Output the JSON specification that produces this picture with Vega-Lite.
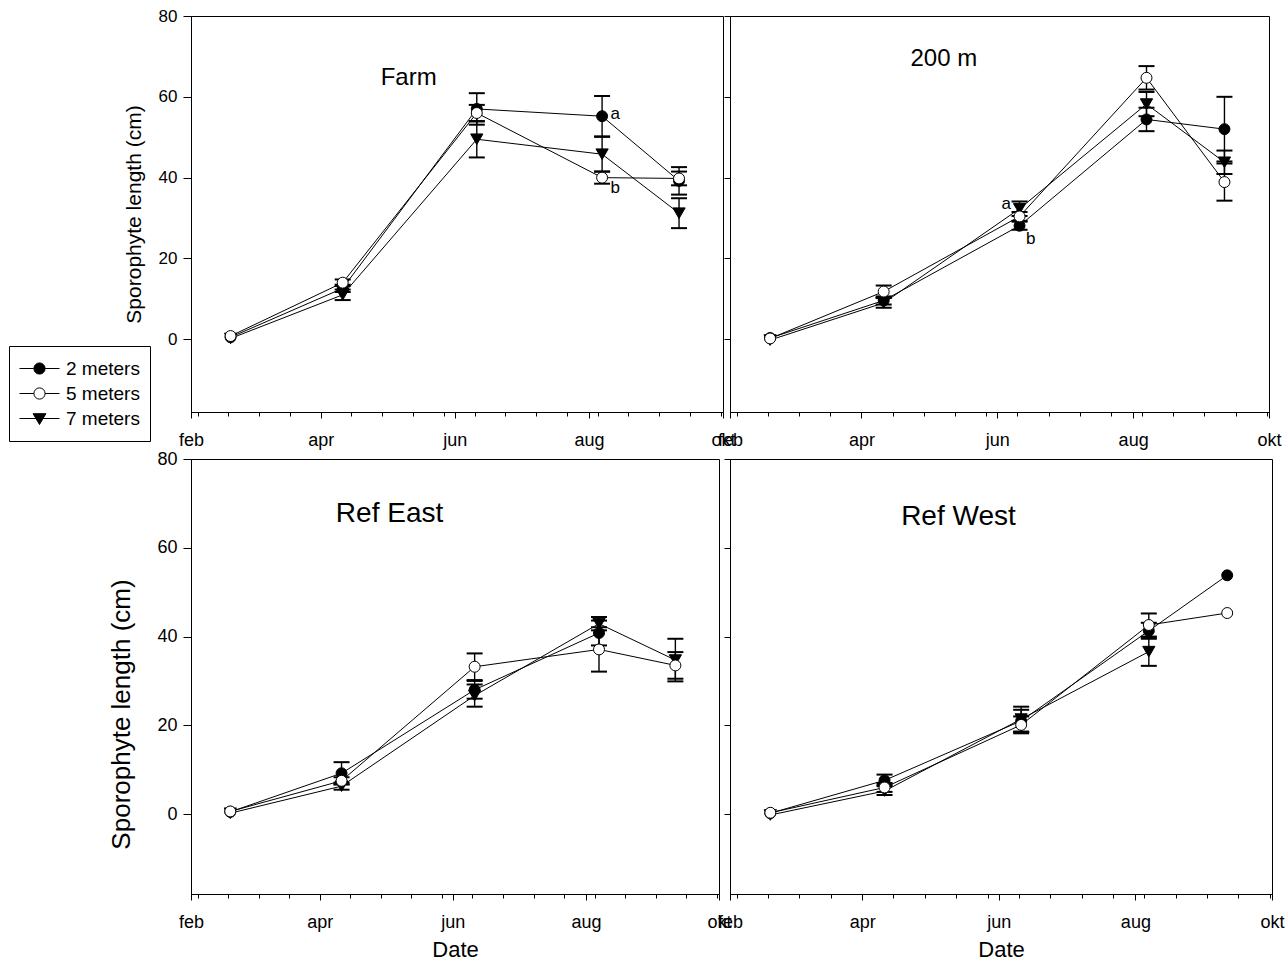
{
  "$schema": "https://vega.github.io/schema/vega-lite/v6.json",
  "padding": {"left": 8, "top": 6, "right": 0, "bottom": 0},
  "background": "white",
  "config": {
    "font": "Liberation Sans",
    "view": {"stroke": "black", "strokeWidth": 1},
    "axis": {"labelFont": "Liberation Sans", "titleFont": "Liberation Sans", "labelColor": "black", "titleColor": "black", "tickColor": "black", "domainColor": "black", "titleFontWeight": "normal", "grid": false, "tickWidth": 1, "domainWidth": 1}
  },
  "datasets": {
    "d": [
      {"panel": "Farm", "depth": "2 meters", "date": "2009-02-19", "y": 0.5, "lo": null, "hi": null},
      {"panel": "Farm", "depth": "2 meters", "date": "2009-04-11", "y": 12.6, "lo": 11.7, "hi": 13.5},
      {"panel": "Farm", "depth": "2 meters", "date": "2009-06-11", "y": 57.0, "lo": 53.1, "hi": 60.9},
      {"panel": "Farm", "depth": "2 meters", "date": "2009-08-07", "y": 55.2, "lo": 50.2, "hi": 60.2},
      {"panel": "Farm", "depth": "2 meters", "date": "2009-09-11", "y": 39.2, "lo": 35.8, "hi": 42.6},
      {"panel": "Farm", "depth": "7 meters", "date": "2009-02-19", "y": 0.2, "lo": null, "hi": null},
      {"panel": "Farm", "depth": "7 meters", "date": "2009-04-11", "y": 11.0, "lo": 9.7, "hi": 12.3},
      {"panel": "Farm", "depth": "7 meters", "date": "2009-06-11", "y": 49.5, "lo": 45.0, "hi": 54.0},
      {"panel": "Farm", "depth": "7 meters", "date": "2009-08-07", "y": 45.8, "lo": 41.5, "hi": 50.1},
      {"panel": "Farm", "depth": "7 meters", "date": "2009-09-11", "y": 31.2, "lo": 27.5, "hi": 34.9},
      {"panel": "Farm", "depth": "5 meters", "date": "2009-02-19", "y": 0.8, "lo": null, "hi": null},
      {"panel": "Farm", "depth": "5 meters", "date": "2009-04-11", "y": 14.0, "lo": 13.2, "hi": 14.8},
      {"panel": "Farm", "depth": "5 meters", "date": "2009-06-11", "y": 56.0, "lo": 53.9, "hi": 58.0},
      {"panel": "Farm", "depth": "5 meters", "date": "2009-08-07", "y": 40.0, "lo": 38.5, "hi": 41.5},
      {"panel": "Farm", "depth": "5 meters", "date": "2009-09-11", "y": 39.8, "lo": 38.1, "hi": 41.5},

      {"panel": "200 m", "depth": "2 meters", "date": "2009-02-19", "y": 0.3, "lo": null, "hi": null},
      {"panel": "200 m", "depth": "2 meters", "date": "2009-04-11", "y": 9.6, "lo": 8.6, "hi": 10.6},
      {"panel": "200 m", "depth": "2 meters", "date": "2009-06-11", "y": 28.1, "lo": 27.1, "hi": 29.1},
      {"panel": "200 m", "depth": "2 meters", "date": "2009-08-07", "y": 54.4, "lo": 51.5, "hi": 57.3},
      {"panel": "200 m", "depth": "2 meters", "date": "2009-09-11", "y": 52.0, "lo": 44.0, "hi": 60.0},
      {"panel": "200 m", "depth": "7 meters", "date": "2009-02-19", "y": -0.2, "lo": null, "hi": null},
      {"panel": "200 m", "depth": "7 meters", "date": "2009-04-11", "y": 9.0, "lo": 7.8, "hi": 10.2},
      {"panel": "200 m", "depth": "7 meters", "date": "2009-06-11", "y": 32.3, "lo": 30.5, "hi": 34.1},
      {"panel": "200 m", "depth": "7 meters", "date": "2009-08-07", "y": 58.2, "lo": 55.2, "hi": 61.2},
      {"panel": "200 m", "depth": "7 meters", "date": "2009-09-11", "y": 43.8, "lo": 40.9, "hi": 46.7},
      {"panel": "200 m", "depth": "5 meters", "date": "2009-02-19", "y": 0.2, "lo": null, "hi": null},
      {"panel": "200 m", "depth": "5 meters", "date": "2009-04-11", "y": 11.8, "lo": 10.3, "hi": 13.3},
      {"panel": "200 m", "depth": "5 meters", "date": "2009-06-11", "y": 30.4, "lo": 29.3, "hi": 31.5},
      {"panel": "200 m", "depth": "5 meters", "date": "2009-08-07", "y": 64.7, "lo": 61.8, "hi": 67.6},
      {"panel": "200 m", "depth": "5 meters", "date": "2009-09-11", "y": 38.9, "lo": 34.3, "hi": 43.5},

      {"panel": "Ref East", "depth": "2 meters", "date": "2009-02-19", "y": 0.5, "lo": null, "hi": null},
      {"panel": "Ref East", "depth": "2 meters", "date": "2009-04-11", "y": 9.2, "lo": 6.7, "hi": 11.7},
      {"panel": "Ref East", "depth": "2 meters", "date": "2009-06-11", "y": 28.0, "lo": 26.0, "hi": 30.0},
      {"panel": "Ref East", "depth": "2 meters", "date": "2009-08-07", "y": 40.8, "lo": 38.0, "hi": 43.6},
      {"panel": "Ref East", "depth": "7 meters", "date": "2009-02-19", "y": 0.2, "lo": null, "hi": null},
      {"panel": "Ref East", "depth": "7 meters", "date": "2009-04-11", "y": 6.3, "lo": 5.5, "hi": 7.1},
      {"panel": "Ref East", "depth": "7 meters", "date": "2009-06-11", "y": 26.7, "lo": 24.2, "hi": 29.2},
      {"panel": "Ref East", "depth": "7 meters", "date": "2009-08-07", "y": 42.9, "lo": 41.4, "hi": 44.4},
      {"panel": "Ref East", "depth": "7 meters", "date": "2009-09-11", "y": 34.7, "lo": 29.9, "hi": 39.5},
      {"panel": "Ref East", "depth": "5 meters", "date": "2009-02-19", "y": 0.6, "lo": null, "hi": null},
      {"panel": "Ref East", "depth": "5 meters", "date": "2009-04-11", "y": 7.5, "lo": 6.7, "hi": 8.3},
      {"panel": "Ref East", "depth": "5 meters", "date": "2009-06-11", "y": 33.2, "lo": 30.2, "hi": 36.2},
      {"panel": "Ref East", "depth": "5 meters", "date": "2009-08-07", "y": 37.1, "lo": 32.1, "hi": 42.1},
      {"panel": "Ref East", "depth": "5 meters", "date": "2009-09-11", "y": 33.5, "lo": 30.5, "hi": 36.5},

      {"panel": "Ref West", "depth": "2 meters", "date": "2009-02-19", "y": 0.2, "lo": null, "hi": null},
      {"panel": "Ref West", "depth": "2 meters", "date": "2009-04-11", "y": 7.6, "lo": 6.6, "hi": 8.9},
      {"panel": "Ref West", "depth": "2 meters", "date": "2009-06-11", "y": 21.0, "lo": 18.5, "hi": 23.5},
      {"panel": "Ref West", "depth": "2 meters", "date": "2009-08-07", "y": 41.3, "lo": 39.5, "hi": 43.1},
      {"panel": "Ref West", "depth": "2 meters", "date": "2009-09-11", "y": 53.8, "lo": null, "hi": null},
      {"panel": "Ref West", "depth": "7 meters", "date": "2009-02-19", "y": -0.2, "lo": null, "hi": null},
      {"panel": "Ref West", "depth": "7 meters", "date": "2009-04-11", "y": 5.2, "lo": 4.3, "hi": 6.3},
      {"panel": "Ref West", "depth": "7 meters", "date": "2009-06-11", "y": 21.4, "lo": 18.6, "hi": 24.2},
      {"panel": "Ref West", "depth": "7 meters", "date": "2009-08-07", "y": 36.6, "lo": 33.4, "hi": 39.8},
      {"panel": "Ref West", "depth": "5 meters", "date": "2009-02-19", "y": 0.3, "lo": null, "hi": null},
      {"panel": "Ref West", "depth": "5 meters", "date": "2009-04-11", "y": 6.0, "lo": 5.0, "hi": 7.0},
      {"panel": "Ref West", "depth": "5 meters", "date": "2009-06-11", "y": 20.1, "lo": 18.2, "hi": 22.0},
      {"panel": "Ref West", "depth": "5 meters", "date": "2009-08-07", "y": 42.6, "lo": 40.0, "hi": 45.2},
      {"panel": "Ref West", "depth": "5 meters", "date": "2009-09-11", "y": 45.3, "lo": null, "hi": null}
    ],
    "titles": [
      {"panel": "Farm", "date": "2009-05-11", "y": 64.6, "text": "Farm"},
      {"panel": "200 m", "date": "2009-05-08", "y": 69.4, "text": "200 m"},
      {"panel": "Ref East", "date": "2009-05-03", "y": 67.7, "text": "Ref East"},
      {"panel": "Ref West", "date": "2009-05-14", "y": 67.0, "text": "Ref West"}
    ],
    "letters": [
      {"panel": "Farm", "date": "2009-08-13", "y": 55.7, "text": "a"},
      {"panel": "Farm", "date": "2009-08-13", "y": 37.4, "text": "b"},
      {"panel": "200 m", "date": "2009-06-05", "y": 33.4, "text": "a"},
      {"panel": "200 m", "date": "2009-06-16", "y": 24.7, "text": "b"}
    ]
  },
  "columns": 2,
  "spacing": {"row": 47, "column": 7},
  "bounds": "flush",
  "resolve": {"scale": {"x": "independent", "y": "independent"}},
  "concat": [
    {
      "width": 532, "height": 396,
      "encoding": {
        "x": {"field": "date", "type": "temporal", "scale": {"type": "utc", "domain": [{"year": 2009, "month": 2, "date": 1, "utc": true}, {"year": 2009, "month": 10, "date": 1, "utc": true}]},
          "axis": {"title": null, "values": [{"year": 2009, "month": 2, "date": 1, "utc": true}, {"year": 2009, "month": 2, "date": 4, "utc": true}, {"year": 2009, "month": 2, "date": 18, "utc": true}, {"year": 2009, "month": 3, "date": 4, "utc": true}, {"year": 2009, "month": 3, "date": 18, "utc": true}, {"year": 2009, "month": 4, "date": 1, "utc": true}, {"year": 2009, "month": 4, "date": 15, "utc": true}, {"year": 2009, "month": 4, "date": 29, "utc": true}, {"year": 2009, "month": 5, "date": 13, "utc": true}, {"year": 2009, "month": 5, "date": 27, "utc": true}, {"year": 2009, "month": 6, "date": 1, "utc": true}, {"year": 2009, "month": 6, "date": 10, "utc": true}, {"year": 2009, "month": 6, "date": 24, "utc": true}, {"year": 2009, "month": 7, "date": 8, "utc": true}, {"year": 2009, "month": 7, "date": 22, "utc": true}, {"year": 2009, "month": 8, "date": 1, "utc": true}, {"year": 2009, "month": 8, "date": 5, "utc": true}, {"year": 2009, "month": 8, "date": 19, "utc": true}, {"year": 2009, "month": 9, "date": 2, "utc": true}, {"year": 2009, "month": 9, "date": 16, "utc": true}, {"year": 2009, "month": 9, "date": 30, "utc": true}, {"year": 2009, "month": 10, "date": 1, "utc": true}],
            "labelExpr": "utcdate(datum.value) === 1 ? ['jan','feb','mar','apr','mai','jun','jul','aug','sep','okt','nov','des'][utcmonth(datum.value)] : ''",
            "labelOverlap": false, "labelFlush": false, "labelFontSize": 18, "labelPadding": 13,
            "tickSize": {"condition": {"test": "utcdate(datum.value) === 1", "value": 6}, "value": 4}}},
        "y": {"field": "y", "type": "quantitative", "scale": {"domain": [-18, 80], "nice": false, "zero": false},
          "axis": {"values": [0, 20, 40, 60, 80], "tickSize": 8, "labelPadding": 6, "labelFontSize": 17, "title": "Sporophyte length (cm)", "titleFontSize": 21, "titlePadding": 14}}
      },
      "layer": [
        {"data": {"name": "d"}, "transform": [{"filter": "datum.panel === 'Farm'"}], "mark": {"type": "rule", "color": "black", "strokeWidth": 1.4},
          "encoding": {"y": {"field": "lo", "type": "quantitative", "scale": {"domain": [-18, 80], "nice": false, "zero": false}, "axis": {"values": [0, 20, 40, 60, 80], "tickSize": 8, "labelPadding": 6, "labelFontSize": 17, "title": "Sporophyte length (cm)", "titleFontSize": 21, "titlePadding": 14}}, "y2": {"field": "hi"}}},
        {"data": {"name": "d"}, "transform": [{"filter": "datum.panel === 'Farm'"}], "mark": {"type": "tick", "orient": "horizontal", "size": 16, "thickness": 2, "color": "black", "opacity": 1},
          "encoding": {"y": {"field": "lo", "type": "quantitative", "scale": {"domain": [-18, 80], "nice": false, "zero": false}, "axis": {"values": [0, 20, 40, 60, 80], "tickSize": 8, "labelPadding": 6, "labelFontSize": 17, "title": "Sporophyte length (cm)", "titleFontSize": 21, "titlePadding": 14}}}},
        {"data": {"name": "d"}, "transform": [{"filter": "datum.panel === 'Farm'"}], "mark": {"type": "tick", "orient": "horizontal", "size": 16, "thickness": 2, "color": "black", "opacity": 1},
          "encoding": {"y": {"field": "hi", "type": "quantitative", "scale": {"domain": [-18, 80], "nice": false, "zero": false}, "axis": {"values": [0, 20, 40, 60, 80], "tickSize": 8, "labelPadding": 6, "labelFontSize": 17, "title": "Sporophyte length (cm)", "titleFontSize": 21, "titlePadding": 14}}}},
        {"data": {"name": "d"}, "transform": [{"filter": "datum.panel === 'Farm'"}], "mark": {"type": "line", "color": "black", "strokeWidth": 1},
          "encoding": {"detail": {"field": "depth", "type": "nominal"}}},
        {"data": {"name": "d"}, "transform": [{"filter": "datum.panel === 'Farm' && datum.depth === '2 meters'"}], "mark": {"type": "point", "shape": "circle", "filled": true, "fill": "black", "stroke": "black", "strokeWidth": 1, "size": 120, "opacity": 1}},
        {"data": {"name": "d"}, "transform": [{"filter": "datum.panel === 'Farm' && datum.depth === '7 meters'"}], "mark": {"type": "point", "shape": "triangle-down", "filled": true, "fill": "black", "stroke": "black", "strokeWidth": 1, "size": 150, "opacity": 1}},
        {"data": {"name": "d"}, "transform": [{"filter": "datum.panel === 'Farm' && datum.depth === '5 meters'"}], "mark": {"type": "point", "shape": "circle", "filled": true, "fill": "white", "stroke": "black", "strokeWidth": 1, "size": 120, "opacity": 1}},
        {"data": {"name": "d"}, "transform": [{"filter": "datum.panel === 'none'"}], "mark": {"type": "point", "stroke": "black", "strokeWidth": 1, "size": 1600, "opacity": 1},
          "encoding": {
            "shape": {"field": "depth", "type": "nominal", "scale": {"domain": ["2 meters", "5 meters", "7 meters"], "range": ["M-1,0L-0.28,0M0.28,0L1,0M0.28,0C0.28,0.1546,0.1546,0.28,0,0.28C-0.1546,0.28,-0.28,0.1546,-0.28,0C-0.28,-0.1546,-0.1546,-0.28,0,-0.28C0.1546,-0.28,0.28,-0.1546,0.28,0Z", "M-1,0L-0.28,0M0.28,0L1,0M0.28,0C0.28,0.1546,0.1546,0.28,0,0.28C-0.1546,0.28,-0.28,0.1546,-0.28,0C-0.28,-0.1546,-0.1546,-0.28,0,-0.28C0.1546,-0.28,0.28,-0.1546,0.28,0Z", "M-1,0L1,0M-0.32,-0.24L0.32,-0.24L0,0.3Z"]},
              "legend": {"title": null, "orient": "none", "legendX": -182, "legendY": 330, "strokeColor": "black", "fillColor": "white", "padding": 10, "labelFontSize": 19, "labelFont": "Liberation Sans", "labelColor": "black", "labelOffset": 6, "symbolSize": 1600, "clipHeight": 25, "rowPadding": 0, "symbolStrokeColor": "black", "symbolStrokeWidth": 1,
                "encode": {"symbols": {"update": {"stroke": {"value": "black"}, "strokeWidth": {"value": 1}}}}}},
            "fill": {"field": "depth", "type": "nominal", "scale": {"domain": ["2 meters", "5 meters", "7 meters"], "range": ["black", "white", "black"]},
              "legend": {"title": null, "orient": "none", "legendX": -182, "legendY": 330, "strokeColor": "black", "fillColor": "white", "padding": 10, "labelFontSize": 19, "labelFont": "Liberation Sans", "labelColor": "black", "labelOffset": 6, "symbolSize": 1600, "clipHeight": 25, "rowPadding": 0, "symbolStrokeColor": "black", "symbolStrokeWidth": 1,
                "encode": {"symbols": {"update": {"stroke": {"value": "black"}, "strokeWidth": {"value": 1}}}}}},
            "stroke": {"field": "depth", "type": "nominal", "scale": {"domain": ["2 meters", "5 meters", "7 meters"], "range": ["black", "black", "black"]},
              "legend": {"title": null, "orient": "none", "legendX": -182, "legendY": 330, "strokeColor": "black", "fillColor": "white", "padding": 10, "labelFontSize": 19, "labelFont": "Liberation Sans", "labelColor": "black", "labelOffset": 6, "symbolSize": 1600, "clipHeight": 25, "rowPadding": 0, "symbolStrokeColor": "black", "symbolStrokeWidth": 1,
                "encode": {"symbols": {"update": {"stroke": {"value": "black"}, "strokeWidth": {"value": 1}}}}}}
          }},
        {"data": {"name": "titles"}, "transform": [{"filter": "datum.panel === 'Farm'"}], "mark": {"type": "text", "fontSize": 24, "font": "Liberation Sans", "color": "black", "align": "center", "baseline": "middle"},
          "encoding": {"text": {"field": "text"}}},
        {"data": {"name": "letters"}, "transform": [{"filter": "datum.panel === 'Farm'"}], "mark": {"type": "text", "fontSize": 17, "font": "Liberation Sans", "color": "black", "align": "center", "baseline": "middle"},
          "encoding": {"text": {"field": "text"}}}
      ]
    },
    {
      "width": 539, "height": 396,
      "encoding": {
        "x": {"field": "date", "type": "temporal", "scale": {"type": "utc", "domain": [{"year": 2009, "month": 2, "date": 1, "utc": true}, {"year": 2009, "month": 10, "date": 1, "utc": true}]},
          "axis": {"title": null, "values": [{"year": 2009, "month": 2, "date": 1, "utc": true}, {"year": 2009, "month": 2, "date": 4, "utc": true}, {"year": 2009, "month": 2, "date": 18, "utc": true}, {"year": 2009, "month": 3, "date": 4, "utc": true}, {"year": 2009, "month": 3, "date": 18, "utc": true}, {"year": 2009, "month": 4, "date": 1, "utc": true}, {"year": 2009, "month": 4, "date": 15, "utc": true}, {"year": 2009, "month": 4, "date": 29, "utc": true}, {"year": 2009, "month": 5, "date": 13, "utc": true}, {"year": 2009, "month": 5, "date": 27, "utc": true}, {"year": 2009, "month": 6, "date": 1, "utc": true}, {"year": 2009, "month": 6, "date": 10, "utc": true}, {"year": 2009, "month": 6, "date": 24, "utc": true}, {"year": 2009, "month": 7, "date": 8, "utc": true}, {"year": 2009, "month": 7, "date": 22, "utc": true}, {"year": 2009, "month": 8, "date": 1, "utc": true}, {"year": 2009, "month": 8, "date": 5, "utc": true}, {"year": 2009, "month": 8, "date": 19, "utc": true}, {"year": 2009, "month": 9, "date": 2, "utc": true}, {"year": 2009, "month": 9, "date": 16, "utc": true}, {"year": 2009, "month": 9, "date": 30, "utc": true}, {"year": 2009, "month": 10, "date": 1, "utc": true}],
            "labelExpr": "utcdate(datum.value) === 1 ? ['jan','feb','mar','apr','mai','jun','jul','aug','sep','okt','nov','des'][utcmonth(datum.value)] : ''",
            "labelOverlap": false, "labelFlush": false, "labelFontSize": 18, "labelPadding": 13,
            "tickSize": {"condition": {"test": "utcdate(datum.value) === 1", "value": 6}, "value": 4}}},
        "y": {"field": "y", "type": "quantitative", "scale": {"domain": [-18, 80], "nice": false, "zero": false},
          "axis": {"values": [0, 20, 40, 60, 80], "tickSize": 6, "labels": false, "title": null}}
      },
      "layer": [
        {"data": {"name": "d"}, "transform": [{"filter": "datum.panel === '200 m'"}], "mark": {"type": "rule", "color": "black", "strokeWidth": 1.4},
          "encoding": {"y": {"field": "lo", "type": "quantitative", "scale": {"domain": [-18, 80], "nice": false, "zero": false}, "axis": {"values": [0, 20, 40, 60, 80], "tickSize": 6, "labels": false, "title": null}}, "y2": {"field": "hi"}}},
        {"data": {"name": "d"}, "transform": [{"filter": "datum.panel === '200 m'"}], "mark": {"type": "tick", "orient": "horizontal", "size": 16, "thickness": 2, "color": "black", "opacity": 1},
          "encoding": {"y": {"field": "lo", "type": "quantitative", "scale": {"domain": [-18, 80], "nice": false, "zero": false}, "axis": {"values": [0, 20, 40, 60, 80], "tickSize": 6, "labels": false, "title": null}}}},
        {"data": {"name": "d"}, "transform": [{"filter": "datum.panel === '200 m'"}], "mark": {"type": "tick", "orient": "horizontal", "size": 16, "thickness": 2, "color": "black", "opacity": 1},
          "encoding": {"y": {"field": "hi", "type": "quantitative", "scale": {"domain": [-18, 80], "nice": false, "zero": false}, "axis": {"values": [0, 20, 40, 60, 80], "tickSize": 6, "labels": false, "title": null}}}},
        {"data": {"name": "d"}, "transform": [{"filter": "datum.panel === '200 m'"}], "mark": {"type": "line", "color": "black", "strokeWidth": 1},
          "encoding": {"detail": {"field": "depth", "type": "nominal"}}},
        {"data": {"name": "d"}, "transform": [{"filter": "datum.panel === '200 m' && datum.depth === '2 meters'"}], "mark": {"type": "point", "shape": "circle", "filled": true, "fill": "black", "stroke": "black", "strokeWidth": 1, "size": 120, "opacity": 1}},
        {"data": {"name": "d"}, "transform": [{"filter": "datum.panel === '200 m' && datum.depth === '7 meters'"}], "mark": {"type": "point", "shape": "triangle-down", "filled": true, "fill": "black", "stroke": "black", "strokeWidth": 1, "size": 150, "opacity": 1}},
        {"data": {"name": "d"}, "transform": [{"filter": "datum.panel === '200 m' && datum.depth === '5 meters'"}], "mark": {"type": "point", "shape": "circle", "filled": true, "fill": "white", "stroke": "black", "strokeWidth": 1, "size": 120, "opacity": 1}},
        {"data": {"name": "titles"}, "transform": [{"filter": "datum.panel === '200 m'"}], "mark": {"type": "text", "fontSize": 24, "font": "Liberation Sans", "color": "black", "align": "center", "baseline": "middle"},
          "encoding": {"text": {"field": "text"}}},
        {"data": {"name": "letters"}, "transform": [{"filter": "datum.panel === '200 m'"}], "mark": {"type": "text", "fontSize": 17, "font": "Liberation Sans", "color": "black", "align": "center", "baseline": "middle"},
          "encoding": {"text": {"field": "text"}}}
      ]
    },
    {
      "width": 528, "height": 435,
      "encoding": {
        "x": {"field": "date", "type": "temporal", "scale": {"type": "utc", "domain": [{"year": 2009, "month": 2, "date": 1, "utc": true}, {"year": 2009, "month": 10, "date": 1, "utc": true}]},
          "axis": {"title": "Date", "titleFontSize": 22, "titlePadding": 8, "values": [{"year": 2009, "month": 2, "date": 1, "utc": true}, {"year": 2009, "month": 2, "date": 4, "utc": true}, {"year": 2009, "month": 2, "date": 18, "utc": true}, {"year": 2009, "month": 3, "date": 4, "utc": true}, {"year": 2009, "month": 3, "date": 18, "utc": true}, {"year": 2009, "month": 4, "date": 1, "utc": true}, {"year": 2009, "month": 4, "date": 15, "utc": true}, {"year": 2009, "month": 4, "date": 29, "utc": true}, {"year": 2009, "month": 5, "date": 13, "utc": true}, {"year": 2009, "month": 5, "date": 27, "utc": true}, {"year": 2009, "month": 6, "date": 1, "utc": true}, {"year": 2009, "month": 6, "date": 10, "utc": true}, {"year": 2009, "month": 6, "date": 24, "utc": true}, {"year": 2009, "month": 7, "date": 8, "utc": true}, {"year": 2009, "month": 7, "date": 22, "utc": true}, {"year": 2009, "month": 8, "date": 1, "utc": true}, {"year": 2009, "month": 8, "date": 5, "utc": true}, {"year": 2009, "month": 8, "date": 19, "utc": true}, {"year": 2009, "month": 9, "date": 2, "utc": true}, {"year": 2009, "month": 9, "date": 16, "utc": true}, {"year": 2009, "month": 9, "date": 30, "utc": true}, {"year": 2009, "month": 10, "date": 1, "utc": true}],
            "labelExpr": "utcdate(datum.value) === 1 ? ['jan','feb','mar','apr','mai','jun','jul','aug','sep','okt','nov','des'][utcmonth(datum.value)] : ''",
            "labelOverlap": false, "labelFlush": false, "labelFontSize": 18, "labelPadding": 13,
            "tickSize": {"condition": {"test": "utcdate(datum.value) === 1", "value": 6}, "value": 4}}},
        "y": {"field": "y", "type": "quantitative", "scale": {"domain": [-18, 80], "nice": false, "zero": false},
          "axis": {"values": [0, 20, 40, 60, 80], "tickSize": 8, "labelPadding": 6, "labelFontSize": 18, "title": "Sporophyte length (cm)", "titleFontSize": 26, "titlePadding": 22, "titleY": 255}}
      },
      "layer": [
        {"data": {"name": "d"}, "transform": [{"filter": "datum.panel === 'Ref East'"}], "mark": {"type": "rule", "color": "black", "strokeWidth": 1.4},
          "encoding": {"y": {"field": "lo", "type": "quantitative", "scale": {"domain": [-18, 80], "nice": false, "zero": false}, "axis": {"values": [0, 20, 40, 60, 80], "tickSize": 8, "labelPadding": 6, "labelFontSize": 18, "title": "Sporophyte length (cm)", "titleFontSize": 26, "titlePadding": 22, "titleY": 255}}, "y2": {"field": "hi"}}},
        {"data": {"name": "d"}, "transform": [{"filter": "datum.panel === 'Ref East'"}], "mark": {"type": "tick", "orient": "horizontal", "size": 16, "thickness": 2, "color": "black", "opacity": 1},
          "encoding": {"y": {"field": "lo", "type": "quantitative", "scale": {"domain": [-18, 80], "nice": false, "zero": false}, "axis": {"values": [0, 20, 40, 60, 80], "tickSize": 8, "labelPadding": 6, "labelFontSize": 18, "title": "Sporophyte length (cm)", "titleFontSize": 26, "titlePadding": 22, "titleY": 255}}}},
        {"data": {"name": "d"}, "transform": [{"filter": "datum.panel === 'Ref East'"}], "mark": {"type": "tick", "orient": "horizontal", "size": 16, "thickness": 2, "color": "black", "opacity": 1},
          "encoding": {"y": {"field": "hi", "type": "quantitative", "scale": {"domain": [-18, 80], "nice": false, "zero": false}, "axis": {"values": [0, 20, 40, 60, 80], "tickSize": 8, "labelPadding": 6, "labelFontSize": 18, "title": "Sporophyte length (cm)", "titleFontSize": 26, "titlePadding": 22, "titleY": 255}}}},
        {"data": {"name": "d"}, "transform": [{"filter": "datum.panel === 'Ref East'"}], "mark": {"type": "line", "color": "black", "strokeWidth": 1},
          "encoding": {"detail": {"field": "depth", "type": "nominal"}}},
        {"data": {"name": "d"}, "transform": [{"filter": "datum.panel === 'Ref East' && datum.depth === '2 meters'"}], "mark": {"type": "point", "shape": "circle", "filled": true, "fill": "black", "stroke": "black", "strokeWidth": 1, "size": 120, "opacity": 1}},
        {"data": {"name": "d"}, "transform": [{"filter": "datum.panel === 'Ref East' && datum.depth === '7 meters'"}], "mark": {"type": "point", "shape": "triangle-down", "filled": true, "fill": "black", "stroke": "black", "strokeWidth": 1, "size": 150, "opacity": 1}},
        {"data": {"name": "d"}, "transform": [{"filter": "datum.panel === 'Ref East' && datum.depth === '5 meters'"}], "mark": {"type": "point", "shape": "circle", "filled": true, "fill": "white", "stroke": "black", "strokeWidth": 1, "size": 120, "opacity": 1}},
        {"data": {"name": "titles"}, "transform": [{"filter": "datum.panel === 'Ref East'"}], "mark": {"type": "text", "fontSize": 28, "font": "Liberation Sans", "color": "black", "align": "center", "baseline": "middle"},
          "encoding": {"text": {"field": "text"}}}
      ]
    },
    {
      "width": 542, "height": 435,
      "encoding": {
        "x": {"field": "date", "type": "temporal", "scale": {"type": "utc", "domain": [{"year": 2009, "month": 2, "date": 1, "utc": true}, {"year": 2009, "month": 10, "date": 1, "utc": true}]},
          "axis": {"title": "Date", "titleFontSize": 22, "titlePadding": 8, "values": [{"year": 2009, "month": 2, "date": 1, "utc": true}, {"year": 2009, "month": 2, "date": 4, "utc": true}, {"year": 2009, "month": 2, "date": 18, "utc": true}, {"year": 2009, "month": 3, "date": 4, "utc": true}, {"year": 2009, "month": 3, "date": 18, "utc": true}, {"year": 2009, "month": 4, "date": 1, "utc": true}, {"year": 2009, "month": 4, "date": 15, "utc": true}, {"year": 2009, "month": 4, "date": 29, "utc": true}, {"year": 2009, "month": 5, "date": 13, "utc": true}, {"year": 2009, "month": 5, "date": 27, "utc": true}, {"year": 2009, "month": 6, "date": 1, "utc": true}, {"year": 2009, "month": 6, "date": 10, "utc": true}, {"year": 2009, "month": 6, "date": 24, "utc": true}, {"year": 2009, "month": 7, "date": 8, "utc": true}, {"year": 2009, "month": 7, "date": 22, "utc": true}, {"year": 2009, "month": 8, "date": 1, "utc": true}, {"year": 2009, "month": 8, "date": 5, "utc": true}, {"year": 2009, "month": 8, "date": 19, "utc": true}, {"year": 2009, "month": 9, "date": 2, "utc": true}, {"year": 2009, "month": 9, "date": 16, "utc": true}, {"year": 2009, "month": 9, "date": 30, "utc": true}, {"year": 2009, "month": 10, "date": 1, "utc": true}],
            "labelExpr": "utcdate(datum.value) === 1 ? ['jan','feb','mar','apr','mai','jun','jul','aug','sep','okt','nov','des'][utcmonth(datum.value)] : ''",
            "labelOverlap": false, "labelFlush": false, "labelFontSize": 18, "labelPadding": 13,
            "tickSize": {"condition": {"test": "utcdate(datum.value) === 1", "value": 6}, "value": 4}}},
        "y": {"field": "y", "type": "quantitative", "scale": {"domain": [-18, 80], "nice": false, "zero": false},
          "axis": {"values": [0, 20, 40, 60, 80], "tickSize": 6, "labels": false, "title": null}}
      },
      "layer": [
        {"data": {"name": "d"}, "transform": [{"filter": "datum.panel === 'Ref West'"}], "mark": {"type": "rule", "color": "black", "strokeWidth": 1.4},
          "encoding": {"y": {"field": "lo", "type": "quantitative", "scale": {"domain": [-18, 80], "nice": false, "zero": false}, "axis": {"values": [0, 20, 40, 60, 80], "tickSize": 6, "labels": false, "title": null}}, "y2": {"field": "hi"}}},
        {"data": {"name": "d"}, "transform": [{"filter": "datum.panel === 'Ref West'"}], "mark": {"type": "tick", "orient": "horizontal", "size": 16, "thickness": 2, "color": "black", "opacity": 1},
          "encoding": {"y": {"field": "lo", "type": "quantitative", "scale": {"domain": [-18, 80], "nice": false, "zero": false}, "axis": {"values": [0, 20, 40, 60, 80], "tickSize": 6, "labels": false, "title": null}}}},
        {"data": {"name": "d"}, "transform": [{"filter": "datum.panel === 'Ref West'"}], "mark": {"type": "tick", "orient": "horizontal", "size": 16, "thickness": 2, "color": "black", "opacity": 1},
          "encoding": {"y": {"field": "hi", "type": "quantitative", "scale": {"domain": [-18, 80], "nice": false, "zero": false}, "axis": {"values": [0, 20, 40, 60, 80], "tickSize": 6, "labels": false, "title": null}}}},
        {"data": {"name": "d"}, "transform": [{"filter": "datum.panel === 'Ref West'"}], "mark": {"type": "line", "color": "black", "strokeWidth": 1},
          "encoding": {"detail": {"field": "depth", "type": "nominal"}}},
        {"data": {"name": "d"}, "transform": [{"filter": "datum.panel === 'Ref West' && datum.depth === '2 meters'"}], "mark": {"type": "point", "shape": "circle", "filled": true, "fill": "black", "stroke": "black", "strokeWidth": 1, "size": 120, "opacity": 1}},
        {"data": {"name": "d"}, "transform": [{"filter": "datum.panel === 'Ref West' && datum.depth === '7 meters'"}], "mark": {"type": "point", "shape": "triangle-down", "filled": true, "fill": "black", "stroke": "black", "strokeWidth": 1, "size": 150, "opacity": 1}},
        {"data": {"name": "d"}, "transform": [{"filter": "datum.panel === 'Ref West' && datum.depth === '5 meters'"}], "mark": {"type": "point", "shape": "circle", "filled": true, "fill": "white", "stroke": "black", "strokeWidth": 1, "size": 120, "opacity": 1}},
        {"data": {"name": "titles"}, "transform": [{"filter": "datum.panel === 'Ref West'"}], "mark": {"type": "text", "fontSize": 28, "font": "Liberation Sans", "color": "black", "align": "center", "baseline": "middle"},
          "encoding": {"text": {"field": "text"}}}
      ]
    }
  ]
}
